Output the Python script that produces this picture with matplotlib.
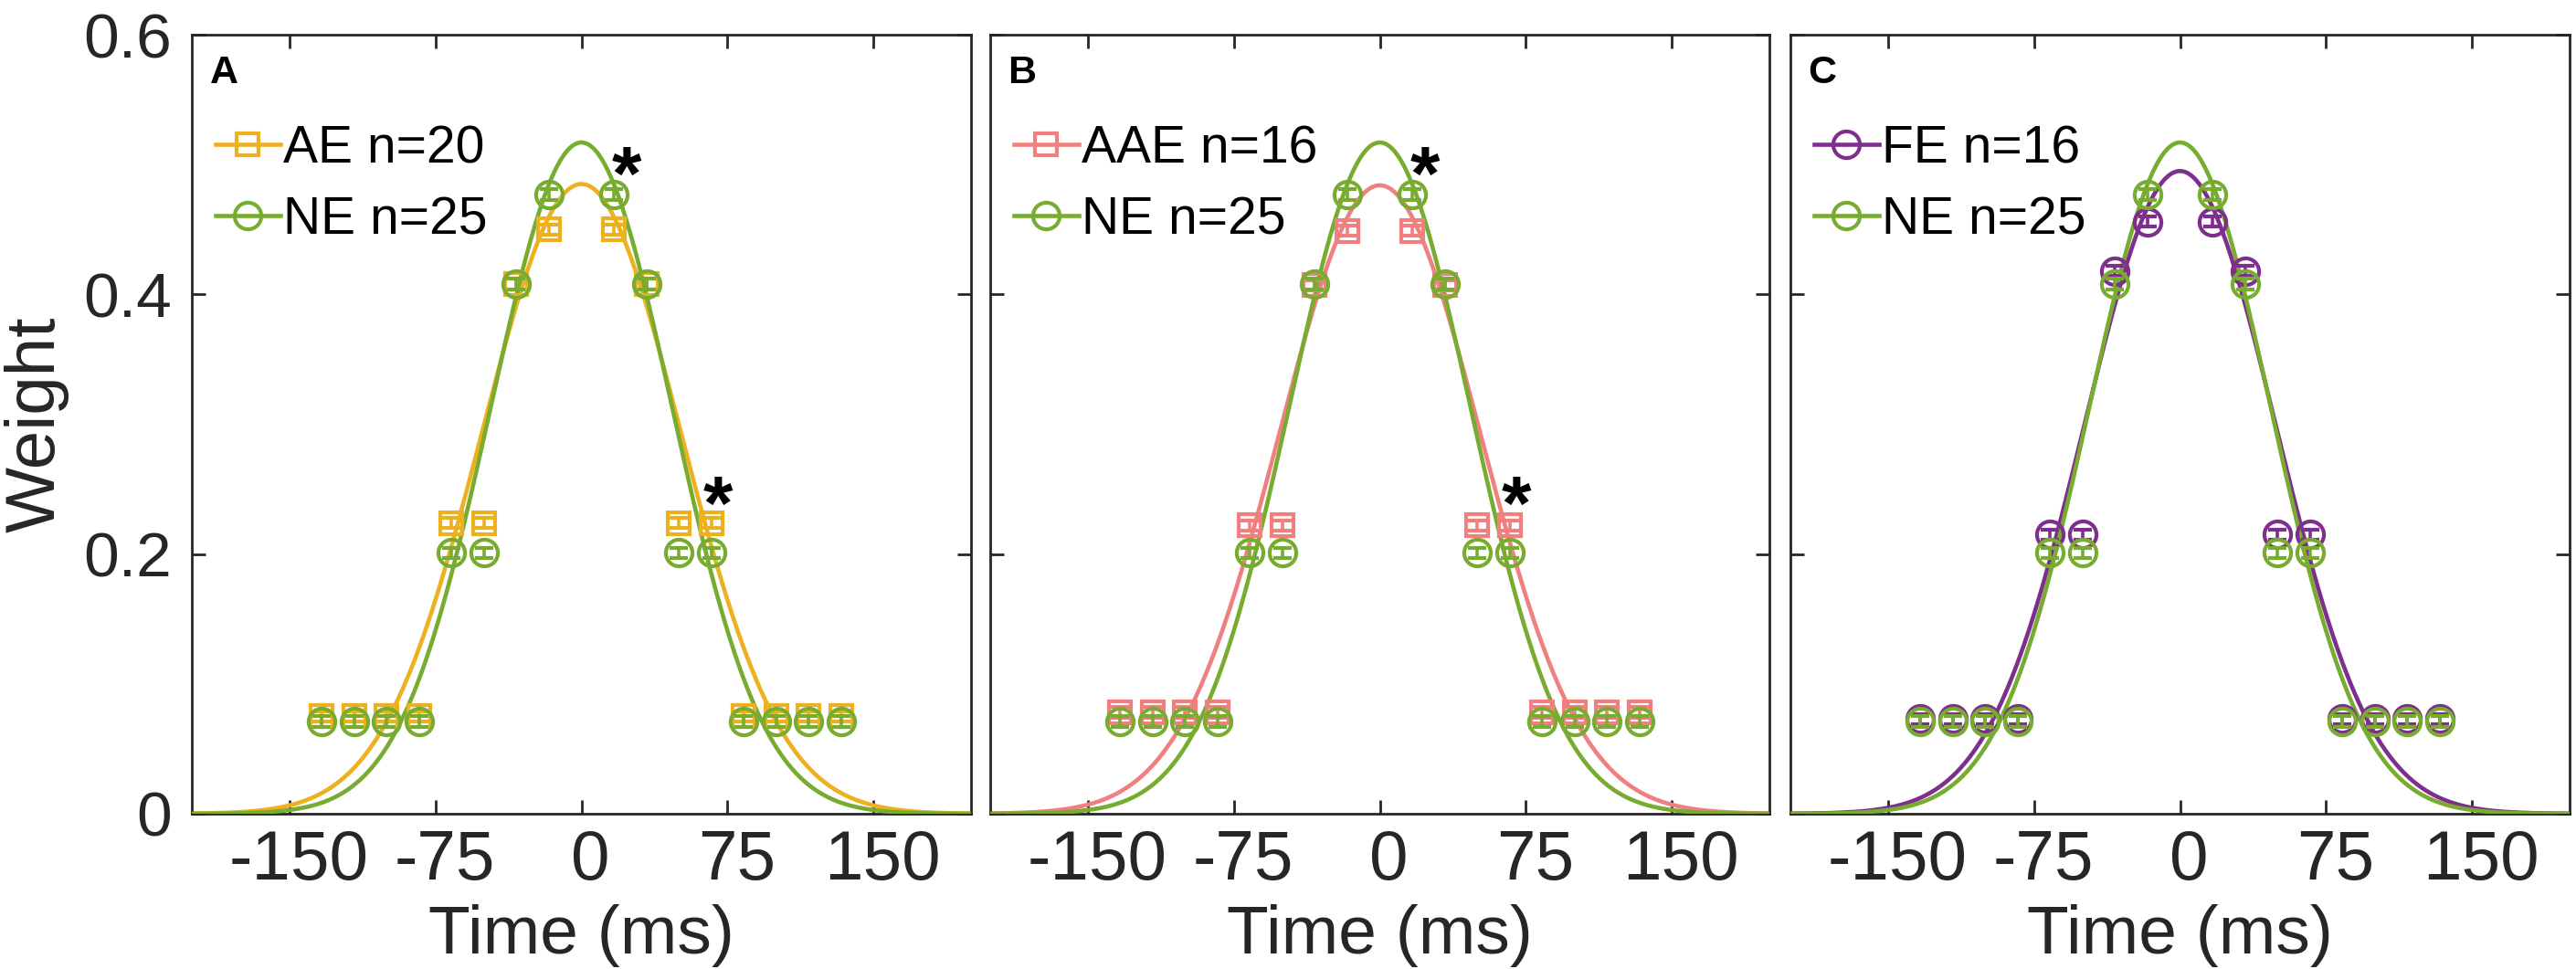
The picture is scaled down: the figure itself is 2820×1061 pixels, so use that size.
import matplotlib
matplotlib.use('Agg')
import matplotlib.pyplot as plt
import matplotlib.transforms as mtransforms
from matplotlib.lines import Line2D
import numpy as np

plt.rcParams['font.family'] = ['Liberation Sans', 'DejaVu Sans']

# stimulus frames (60 Hz) relative to the reference, in ms
time_ms = [-133.3, -116.7, -100.0, -83.3, -66.7, -50.0, -33.3, -16.7,
           16.7, 33.3, 50.0, 66.7, 83.3, 100.0, 116.7, 133.3]

ne_w = [0.071, 0.071, 0.071, 0.071, 0.201, 0.201, 0.408, 0.477,
        0.477, 0.408, 0.201, 0.201, 0.071, 0.071, 0.071, 0.071]
ae_w = [0.075, 0.075, 0.075, 0.075, 0.224, 0.224, 0.408, 0.450,
        0.450, 0.408, 0.224, 0.224, 0.075, 0.075, 0.075, 0.075]
aae_w = [0.078, 0.078, 0.078, 0.078, 0.222, 0.222, 0.407, 0.449,
         0.449, 0.407, 0.222, 0.222, 0.078, 0.078, 0.078, 0.078]
fe_w = [0.073, 0.073, 0.073, 0.073, 0.215, 0.215, 0.418, 0.456,
        0.456, 0.418, 0.215, 0.215, 0.073, 0.073, 0.073, 0.073]

# standard errors (tiny, they sit inside the markers)
ne_se = 0.004
ae_se = 0.004
aae_se = 0.004
fe_se = 0.004

# gaussian fits: peak, sigma (ms)
ne_fit = (0.517, 46.5)
ae_fit = (0.485, 51.0)
aae_fit = (0.484, 51.5)
fe_fit = (0.495, 49.0)

# significance stars (x ms, y baseline)
star_x = [23, 70]
star_y = [0.473, 0.219]

C_AE = '#EDB120'
C_NE = '#77AC30'
C_AAE = '#F08080'
C_FE = '#7E2F8E'
AX_C = '#262626'

panels = [
    dict(letter='A', name='AE n=20', w=ae_w, se=ae_se, fit=ae_fit, color=C_AE, marker='s', stars=True),
    dict(letter='B', name='AAE n=16', w=aae_w, se=aae_se, fit=aae_fit, color=C_AAE, marker='s', stars=True),
    dict(letter='C', name='FE n=16', w=fe_w, se=fe_se, fit=fe_fit, color=C_FE, marker='o', stars=False),
]

fig = plt.figure(figsize=(28.2, 10.61), dpi=100)
lefts = [210, 1084, 1960]
W, H = 2820, 1061

xx = np.linspace(-200, 200, 801)


def gauss(x, fit):
    a, s = fit
    return a * np.exp(-x ** 2 / (2 * s ** 2))


def msize(m):
    # MATLAB squares come out a bit smaller than its circles
    return 17 if m == 's' else 21


for i, p in enumerate(panels):
    ax = fig.add_axes([lefts[i] / W, (H - 891) / H, 853 / W, 853 / H])
    lw = 3.3
    mew = 3.0
    # fits
    ax.plot(xx, gauss(xx, p['fit']), color=p['color'], lw=lw, zorder=2)
    ax.plot(xx, gauss(xx, ne_fit), color=C_NE, lw=lw, zorder=3)
    # group data
    ax.errorbar(time_ms, p['w'], yerr=p['se'], fmt=p['marker'], color=p['color'],
                mfc='none', mec=p['color'], ms=msize(p['marker']), mew=mew,
                elinewidth=2.6, capsize=7, capthick=2.6, zorder=4)
    ax.errorbar(time_ms, ne_w, yerr=ne_se, fmt='o', color=C_NE,
                mfc='none', mec=C_NE, ms=msize('o'), mew=mew, elinewidth=2.6,
                capsize=7, capthick=2.6, zorder=5)

    if p['stars']:
        for sx, sy in zip(star_x, star_y):
            ax.text(sx, sy, '*', fontsize=60, fontweight='bold', ha='center',
                    va='baseline', color='black', zorder=6)

    ax.set_xlim(-200, 200)
    ax.set_ylim(0, 0.6)
    ax.set_xticks([-150, -75, 0, 75, 150])
    ax.set_yticks([0, 0.2, 0.4, 0.6])
    ax.tick_params(direction='in', length=11, width=2.0, color=AX_C,
                   top=True, right=True, labelcolor=AX_C)
    ax.tick_params(axis='x', pad=12, labelsize=55)
    ax.tick_params(axis='y', pad=16, labelsize=50)
    ax.set_xticklabels(['-150', '-75', '0', '75', '150'])
    shift = mtransforms.ScaledTranslation(10 / 100, 0, fig.dpi_scale_trans)
    for lab in ax.get_xticklabels():
        lab.set_transform(lab.get_transform() + shift)
    if i == 0:
        ax.set_yticklabels(['0', '0.2', '0.4', '0.6'])
        ax.set_ylabel('Weight', fontsize=55, color=AX_C)
        ax.yaxis.set_label_coords(-0.158, 0.5)
    else:
        ax.set_yticklabels([])
    ax.set_xlabel('Time (ms)', fontsize=54, color=AX_C, labelpad=8)
    for sp in ax.spines.values():
        sp.set_color(AX_C)
        sp.set_linewidth(2.0)

    ax.text(0.023, 0.974, p['letter'], transform=ax.transAxes, fontsize=31,
            fontweight='bold', ha='left', va='top')

    handles = [
        Line2D([], [], color=p['color'], lw=lw, marker=p['marker'],
               ms=msize(p['marker']), mfc='none', mew=mew),
        Line2D([], [], color=C_NE, lw=lw, marker='o', ms=msize('o'),
               mfc='none', mew=mew),
    ]
    ax.legend(handles, [p['name'], 'NE n=25'], loc='upper left',
              bbox_to_anchor=(0.03, 0.885), frameon=False, fontsize=41,
              handlelength=1.25, handletextpad=0.05, labelspacing=0.42,
              borderpad=0, borderaxespad=0)

fig.savefig('out.png', dpi=100)
